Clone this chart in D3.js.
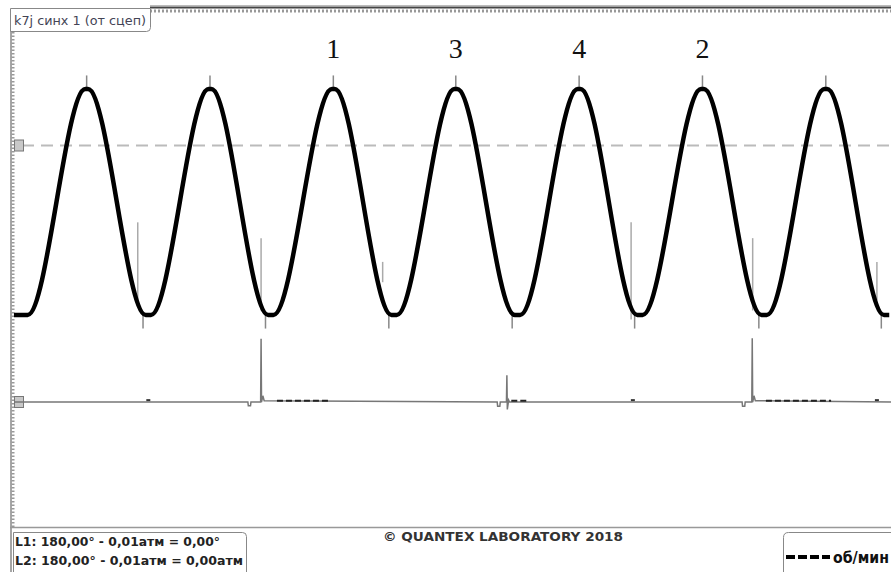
<!DOCTYPE html>
<html>
<head>
<meta charset="utf-8">
<script src="https://cdn.jsdelivr.net/npm/d3@7"></script>
<style>
  body { margin: 0; background: #fff; }
  svg { display: block; }
</style>
</head>
<body>
<div id="scope"></div>
<script>
// time axis in ms, channel 1 in relative units, channel 2 in relative units
var peakT = [8.7, 22.7, 36.7, 50.6, 64.6, 78.6, 92.6];
var troughT = [1.7, 15.7, 29.6, 43.6, 57.6, 71.5, 85.6, 99.5];
var peakV = 1.0;
var troughV = -1.0;
var levelL1 = 0.5;

var cylLabels = ["1", "3", "4", "2"];
var cylPeak = [2, 3, 4, 5];

// gray spikes on channel 1: [t, from, to]
var ch1Spikes = [
    [14.5, -0.18, -0.93],
    [28.5, -0.32, -0.96],
    [42.3, -0.53, -0.71],
    [70.5, -0.18, -1.04],
    [84.3, -0.32, -0.96],
    [98.4, -0.53, -0.87]
];

// channel 2 (sync) trace
var ch2T = [0.45, 27.0, 27.05, 27.3, 27.35, 28.45, 28.5, 28.55, 28.7, 28.85,
            55.3, 55.35, 55.6, 55.65, 56.35, 56.4, 56.45, 56.6, 56.7,
            83.1, 83.15, 83.4, 83.45, 84.2, 84.25, 84.3, 84.45, 84.6, 100];
var ch2V = [0, 0, -0.06, -0.06, 0, 0, 1.02, 0, 0.1, 0.02,
            0, -0.07, -0.07, 0, 0, 0.43, -0.12, 0.03, 0,
            0, -0.07, -0.07, 0, 0, 1.03, 0, 0.1, 0.02, 0];
var ch2Trails = [[30.3, 36.4], [56.9, 58.7], [85.8, 93.2]];
var ch2Marks = [15.7, 70.7, 98.4];

var W = 891, H = 572;
var x = d3.scaleLinear().domain([0, 100]).range([10, 891]);
var y1 = d3.scaleLinear().domain([-1, 1]).range([315, 89]);
var y2 = d3.scaleLinear().domain([0, 1]).range([402, 340]);

var svg = d3.select("#scope").append("svg")
    .attr("width", W).attr("height", H)
    .style("font-family", "'DejaVu Sans', Verdana, sans-serif");

svg.append("rect").attr("width", W).attr("height", H).attr("fill", "#fff");

// frame: top double line and rulers
svg.append("line").attr("x1", 150).attr("x2", W).attr("y1", 5.5).attr("y2", 5.5)
    .attr("stroke", "#bbb").attr("stroke-width", 1);
svg.append("line").attr("x1", 150).attr("x2", W).attr("y1", 7.5).attr("y2", 7.5)
    .attr("stroke", "#444").attr("stroke-width", 2);
svg.append("line").attr("x1", 150).attr("x2", W).attr("y1", 11).attr("y2", 11)
    .attr("stroke", "#999").attr("stroke-width", 3).attr("stroke-dasharray", "2,2");
svg.append("line").attr("x1", 11).attr("x2", 11).attr("y1", 31).attr("y2", H)
    .attr("stroke", "#888").attr("stroke-width", 1.5);
svg.append("line").attr("x1", 13).attr("x2", 13).attr("y1", 32).attr("y2", 527)
    .attr("stroke", "#999").attr("stroke-width", 3).attr("stroke-dasharray", "1.5,2");
svg.append("line").attr("x1", 10).attr("x2", W).attr("y1", 527.5).attr("y2", 527.5)
    .attr("stroke", "#999").attr("stroke-width", 1.5);

// level line of channel 1
svg.append("line")
    .attr("x1", 22).attr("x2", W)
    .attr("y1", y1(levelL1)).attr("y2", y1(levelL1))
    .attr("stroke", "#bbb").attr("stroke-width", 2)
    .attr("stroke-dasharray", "12,7");

// channel markers on the left
[[y1(levelL1)], [y2(0)]].forEach(function(m) {
    svg.append("rect")
        .attr("x", 14.5).attr("y", m[0] - 5.5)
        .attr("width", 9).attr("height", 11)
        .attr("fill", "#c8c8c8").attr("stroke", "#777");
});

// channel 1 gray spikes
svg.selectAll(".spike")
    .data(ch1Spikes)
    .enter().append("line")
        .attr("class", "spike")
        .attr("x1", function(d) { return x(d[0]); })
        .attr("x2", function(d) { return x(d[0]); })
        .attr("y1", function(d) { return y1(d[1]); })
        .attr("y2", function(d) { return y1(d[2]); })
        .attr("stroke", "#aaa").attr("stroke-width", 1.5);

// peak / trough ticks
svg.selectAll(".ptick")
    .data(peakT)
    .enter().append("line")
        .attr("x1", function(d) { return x(d); })
        .attr("x2", function(d) { return x(d); })
        .attr("y1", y1(1.12)).attr("y2", y1(peakV))
        .attr("stroke", "#888").attr("stroke-width", 1.5);
svg.selectAll(".ttick")
    .data(troughT.slice(1))
    .enter().append("line")
        .attr("x1", function(d) { return x(d - 0.6); })
        .attr("x2", function(d) { return x(d - 0.6); })
        .attr("y1", y1(troughV)).attr("y2", y1(-1.12))
        .attr("stroke", "#888").attr("stroke-width", 1.5);

// channel 1 waveform
var pts = [[0.45, troughV]];
var ext = peakT.map(function(t) { return [t, peakV, 0.15]; })
    .concat(troughT.map(function(t) { return [t, troughV, 0.3]; }))
    .sort(function(a, b) { return a[0] - b[0]; });
ext.forEach(function(e) {
    pts.push([e[0] - e[2], e[1]]);
    pts.push([Math.min(100, e[0] + e[2]), e[1]]);
});
pts = pts.filter(function(p, i) { return i == 0 || p[0] > pts[i - 1][0]; });

var line1 = d3.line()
    .x(function(d) { return x(d[0]); })
    .y(function(d) { return y1(d[1]); })
    .curve(d3.curveMonotoneX);
svg.append("path")
    .datum(pts)
    .attr("d", line1)
    .attr("fill", "none")
    .attr("stroke", "#000")
    .attr("stroke-width", 4.5)
    .attr("stroke-linejoin", "miter");

// channel 2
var line2 = d3.line()
    .x(function(d) { return x(d[0]); })
    .y(function(d) { return y2(d[1]); });
svg.append("path")
    .datum(ch2T.map(function(t, i) { return [t, ch2V[i]]; }))
    .attr("d", line2)
    .attr("fill", "none")
    .attr("stroke", "#777")
    .attr("stroke-width", 1.5);
svg.selectAll(".trail")
    .data(ch2Trails)
    .enter().append("line")
        .attr("x1", function(d) { return x(d[0]); })
        .attr("x2", function(d) { return x(d[1]); })
        .attr("y1", y2(0.02)).attr("y2", y2(0.02))
        .attr("stroke", "#222").attr("stroke-width", 2)
        .attr("stroke-dasharray", "6,3");
svg.selectAll(".mark")
    .data(ch2Marks)
    .enter().append("line")
        .attr("x1", function(d) { return x(d) - 2; })
        .attr("x2", function(d) { return x(d) + 2; })
        .attr("y1", y2(0.03)).attr("y2", y2(0.03))
        .attr("stroke", "#333").attr("stroke-width", 2);

// cylinder numbers
svg.selectAll(".cyl")
    .data(cylLabels)
    .enter().append("text")
        .attr("x", function(d, i) { return x(peakT[cylPeak[i]]); })
        .attr("y", 58)
        .attr("text-anchor", "middle")
        .style("font-family", "'Liberation Serif', 'Times New Roman', serif")
        .style("font-size", "28px")
        .attr("fill", "#111")
        .text(function(d) { return d; });

// title tab
svg.append("path")
    .attr("d", "M10.5,8.5 H150.5 V27.5 Q150.5,31.5 146.5,31.5 H10.5 Z")
    .attr("fill", "#fff").attr("stroke", "#888");
svg.append("text")
    .attr("x", 14).attr("y", 25)
    .style("font-size", "12px").attr("fill", "#445")
    .attr("textLength", 132).attr("lengthAdjust", "spacingAndGlyphs")
    .text("k7j синх 1 (от сцеп)");

// bottom info box
svg.append("path")
    .attr("d", "M13.5," + H + " V532.5 H242.5 Q246.5,532.5 246.5,536.5 V" + H)
    .attr("fill", "#fff").attr("stroke", "#888");
svg.append("text").attr("x", 15).attr("y", 546)
    .style("font-size", "12px").style("font-weight", "bold").attr("fill", "#222")
    .attr("textLength", 205).attr("lengthAdjust", "spacingAndGlyphs")
    .text("L1: 180,00° - 0,01атм = 0,00°");
svg.append("text").attr("x", 15).attr("y", 565)
    .style("font-size", "12px").style("font-weight", "bold").attr("fill", "#222")
    .attr("textLength", 228).attr("lengthAdjust", "spacingAndGlyphs")
    .text("L2: 180,00° - 0,01атм = 0,00атм");

svg.append("text").attr("x", 383).attr("y", 541)
    .style("font-size", "12px").style("font-weight", "bold").attr("fill", "#333")
    .attr("textLength", 240).attr("lengthAdjust", "spacingAndGlyphs")
    .text("© QUANTEX LABORATORY 2018");

// legend box
svg.append("path")
    .attr("d", "M783.5," + H + " V537.5 Q783.5,532.5 788.5,532.5 H" + (W + 5))
    .attr("fill", "#fff").attr("stroke", "#888");
svg.append("line").attr("x1", 786).attr("x2", 830).attr("y1", 557).attr("y2", 557)
    .attr("stroke", "#000").attr("stroke-width", 4).attr("stroke-dasharray", "9,3");
svg.append("text").attr("x", 833).attr("y", 563)
    .style("font-size", "15px").style("font-weight", "bold").attr("fill", "#111")
    .attr("textLength", 56).attr("lengthAdjust", "spacingAndGlyphs")
    .text("об/мин");
</script>
</body>
</html>
